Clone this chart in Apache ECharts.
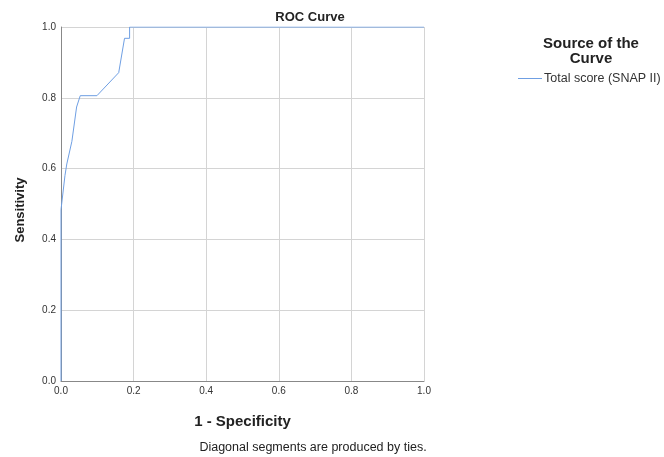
<!DOCTYPE html>
<html>
<head>
<meta charset="utf-8">
<script src="https://cdn.jsdelivr.net/npm/echarts@6/dist/echarts.min.js"></script>
<style>html,body{margin:0;padding:0;background:#fff}#c{width:664px;height:457px}</style>
</head>
<body>
<div id="c"></div>
<script>
const seriesName = 'Total score (SNAP II)';
const fpr = [0, 0, 0.011, 0.016, 0.030, 0.043, 0.053, 0.099, 0.159, 0.175, 0.189, 0.189, 1.0];
const tpr = [0, 0.484, 0.581, 0.613, 0.677, 0.774, 0.806, 0.806, 0.871, 0.968, 0.968, 1.0, 1.0];
const axisTicks = [0, 0.2, 0.4, 0.6, 0.8, 1.0];

const font = '"Liberation Sans", Arial, sans-serif';
const lineColor = '#6f9fe3';
const chart = echarts.init(document.getElementById('c'), null, {renderer: 'canvas'});
const axisCommon = {
  type: 'value', min: 0, max: 1, interval: 0.2,
  axisLine: {show: true, lineStyle: {color: '#888', width: 1}},
  axisTick: {show: false},
  splitLine: {show: true, lineStyle: {color: '#d4d4d4', width: 1}},
  axisLabel: {color: '#333', fontSize: 10, fontFamily: font, margin: 5, formatter: v => v.toFixed(1)}
};
chart.setOption({
  animation: false,
  backgroundColor: '#fff',
  color: [lineColor],
  title: {
    text: 'ROC Curve', left: 305, top: 6, textAlign: 'center',
    textStyle: {fontSize: 13, fontWeight: 'bold', color: '#222', fontFamily: font}
  },
  grid: {left: 61, top: 27, width: 363, height: 354, containLabel: false},
  xAxis: Object.assign({}, axisCommon, {
    name: '1 - Specificity', nameLocation: 'middle', nameGap: 33,
    nameTextStyle: {fontSize: 15, fontWeight: 'bold', color: '#222', fontFamily: font}
  }),
  yAxis: Object.assign({}, axisCommon, {name: ''}),
  legend: {show: false, data: [seriesName]},
  graphic: [
    {type: 'text', style: {text: 'Source of the\nCurve', x: 591, y: 36, align: 'center', fontSize: 15, fontWeight: 'bold', fill: '#222', fontFamily: font, lineHeight: 15}},
    {type: 'line', shape: {x1: 518, y1: 78.5, x2: 542, y2: 78.5}, style: {stroke: lineColor, lineWidth: 1}},
    {type: 'text', style: {text: seriesName, x: 544, y: 78.5, verticalAlign: 'middle', fontSize: 12.5, fill: '#333', fontFamily: font}},
    {type: 'text', rotation: Math.PI / 2, x: 20, y: 210, style: {text: 'Sensitivity', align: 'center', verticalAlign: 'middle', fontSize: 13, fontWeight: 'bold', fill: '#222', fontFamily: font}},
    {type: 'text', style: {text: 'Diagonal segments are produced by ties.', x: 313, y: 441, align: 'center', fontSize: 12.5, fill: '#222', fontFamily: font}}
  ],
  series: [{
    name: seriesName, type: 'line', symbol: 'none',
    data: fpr.map((x, i) => [x, tpr[i]]),
    lineStyle: {color: lineColor, width: 1}, itemStyle: {color: lineColor}
  }]
});
</script>
</body>
</html>
